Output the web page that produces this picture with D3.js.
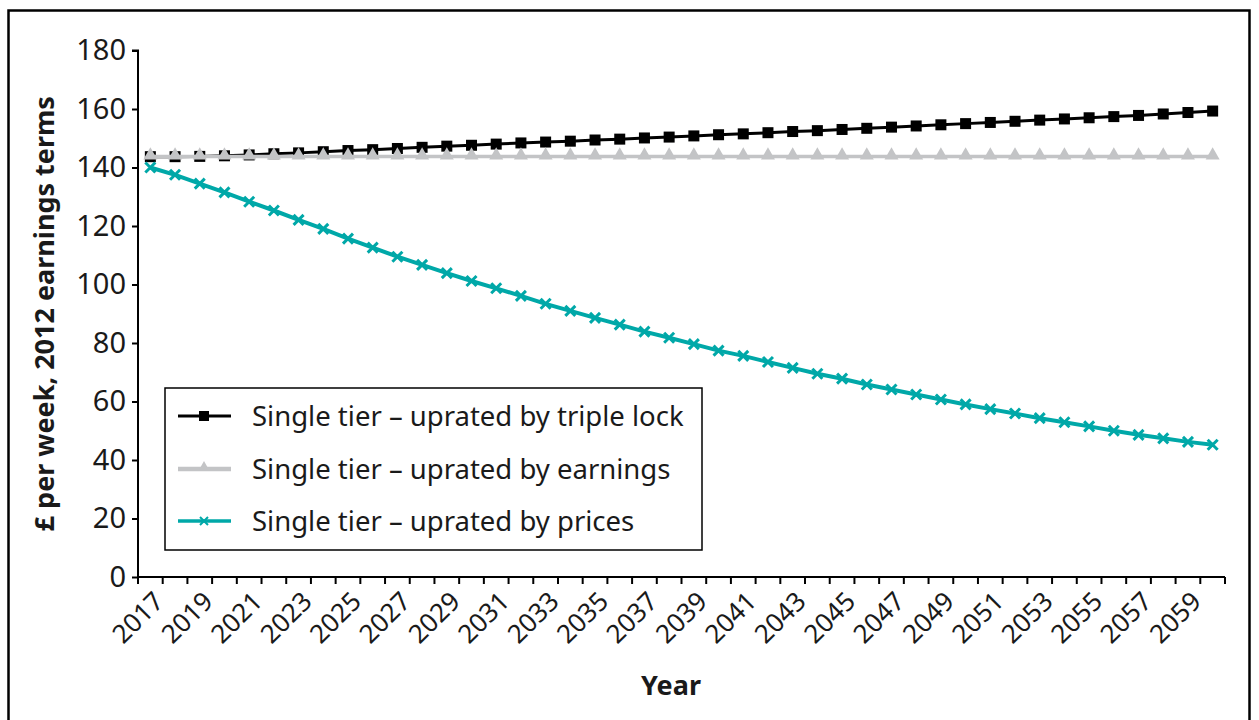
<!DOCTYPE html>
<html>
<head>
<meta charset="utf-8">
<script src="https://cdn.jsdelivr.net/npm/d3@7"></script>
<style>
  html, body { margin: 0; padding: 0; background: #fff; }
  svg { display: block; font-family: "Noto Sans", sans-serif; }
</style>
</head>
<body>
<svg id="chart" width="1259" height="720"></svg>
<script>
const years = d3.range(2017, 2061);
const tickLabels = ["2017","2019","2021","2023","2025","2027","2029","2031","2033","2035","2037","2039","2041","2043","2045","2047","2049","2051","2053","2055","2057","2059"];
const yTicks = [0, 20, 40, 60, 80, 100, 120, 140, 160, 180];

const tripleLock = [143.7,143.7,143.8,144.0,144.3,144.7,145.0,145.4,145.8,146.1,
  146.5,146.9,147.3,147.6,148.0,148.4,148.7,149.0,149.4,149.7,
  150.1,150.4,150.8,151.2,151.5,151.9,152.3,152.6,153.0,153.4,
  153.8,154.2,154.6,155.0,155.4,155.8,156.2,156.6,157.0,157.4,
  157.8,158.3,158.8,159.3];
const earnings = [143.8,143.8,143.8,143.8,143.8,143.8,143.8,143.8,143.8,143.8,
  143.8,143.8,143.8,143.8,143.8,143.8,143.8,143.8,143.8,143.8,
  143.8,143.8,143.8,143.8,143.8,143.8,143.8,143.8,143.8,143.8,
  143.8,143.8,143.8,143.8,143.8,143.8,143.8,143.8,143.8,143.8,
  143.8,143.8,143.8,143.8];
const prices = [140.0,137.5,134.5,131.5,128.3,125.3,122.1,119.0,115.7,112.6,
  109.5,106.7,103.9,101.2,98.7,96.1,93.4,91.0,88.6,86.3,
  83.9,81.8,79.6,77.4,75.6,73.5,71.5,69.5,67.8,65.8,
  64.1,62.4,60.7,59.0,57.4,55.9,54.3,52.9,51.5,50.0,
  48.6,47.4,46.2,45.2];

const seriesNames = ["Single tier – uprated by triple lock", "Single tier – uprated by earnings", "Single tier – uprated by prices"];
const yTitle = "£ per week, 2012 earnings terms";
const xTitle = "Year";

const svg = d3.select("#chart");

// outer frame
svg.append("rect").attr("x", 8.5).attr("y", 10.5).attr("width", 1241).attr("height", 730)
  .attr("fill", "none").attr("stroke", "#000").attr("stroke-width", 2.5);

const pLeft = 138, pRight = 1225, pTop = 50.5, pBottom = 577;
const x = d3.scaleBand().domain(years).range([pLeft, pRight]).padding(0);
const y = d3.scaleLinear().domain([0, 180]).range([pBottom, pTop]);
const cx = d => x(d) + x.bandwidth() / 2;

// Y axis
const yAxis = svg.append("g").attr("transform", `translate(${pLeft},0)`)
  .call(d3.axisLeft(y).tickValues(yTicks).tickSize(6).tickPadding(6).tickFormat(d3.format("d")));
yAxis.select(".domain").attr("stroke", "#000").attr("stroke-width", 2).attr("d", `M-6,${y(180)}H0V${pBottom}`);
yAxis.selectAll(".tick line").attr("stroke", "#000").attr("stroke-width", 2);
yAxis.selectAll(".tick text").attr("font-size", 29).attr("fill", "#1a1a1a").attr("font-family", "Noto Sans, sans-serif");

// X axis
const xg = svg.append("g");
xg.append("line").attr("x1", pLeft).attr("x2", pRight).attr("y1", pBottom).attr("y2", pBottom)
  .attr("stroke", "#000").attr("stroke-width", 2);
const boundaries = years.map(d => x(d)).concat([pRight]);
xg.selectAll("line.tk").data(boundaries).join("line").attr("class", "tk")
  .attr("x1", d => d).attr("x2", d => d).attr("y1", pBottom).attr("y2", pBottom + 7)
  .attr("stroke", "#000").attr("stroke-width", 2);
xg.selectAll("text.xl").data(tickLabels).join("text").attr("class", "xl")
  .attr("transform", d => `translate(${cx(+d) + 2},${pBottom + 13}) rotate(-45)`)
  .attr("text-anchor", "end").attr("dy", "0.7em")
  .attr("font-size", 26).attr("fill", "#1a1a1a").text(d => d);

// Axis titles
svg.append("text").attr("transform", `translate(54,${(pTop + pBottom) / 2}) rotate(-90)`)
  .attr("text-anchor", "middle").attr("font-size", 27).attr("font-weight", "bold").attr("fill", "#1a1a1a")
  .text(yTitle);
svg.append("text").attr("x", 671).attr("y", 695).attr("text-anchor", "middle")
  .attr("font-size", 27).attr("font-weight", "bold").attr("fill", "#1a1a1a").text(xTitle);

const line = d3.line().x((d, i) => cx(years[i])).y(d => y(d));

const colTL = "#000000", colE = "#c3c4c6", colP = "#00a8a8";

// triple lock
svg.append("path").datum(tripleLock).attr("d", line).attr("fill", "none").attr("stroke", colTL).attr("stroke-width", 3);
svg.selectAll("rect.sq").data(tripleLock).join("rect").attr("class", "sq")
  .attr("x", (d, i) => cx(years[i]) - 5.5).attr("y", d => y(d) - 5.5).attr("width", 11).attr("height", 11).attr("fill", colTL);

// earnings
const tri = d3.symbol().type(d3.symbolTriangle).size(85);
svg.append("path").datum(earnings).attr("d", line).attr("fill", "none").attr("stroke", colE).attr("stroke-width", 3.5);
svg.selectAll("path.tri").data(earnings).join("path").attr("class", "tri")
  .attr("transform", (d, i) => `translate(${cx(years[i])},${y(d) - 1})`).attr("d", tri).attr("fill", colE);

// prices
svg.append("path").datum(prices).attr("d", line).attr("fill", "none").attr("stroke", colP).attr("stroke-width", 4);
svg.selectAll("path.cr").data(prices).join("path").attr("class", "cr")
  .attr("d", (d, i) => { const px = cx(years[i]), py = y(d), r = 5; return `M${px-r},${py-r}L${px+r},${py+r}M${px-r},${py+r}L${px+r},${py-r}`; })
  .attr("stroke", colP).attr("stroke-width", 3).attr("fill", "none");

// legend
const lg = svg.append("g");
lg.append("rect").attr("x", 165).attr("y", 388).attr("width", 537).attr("height", 162)
  .attr("fill", "#fff").attr("stroke", "#000").attr("stroke-width", 1.5);
const rows = [416, 469, 521];
const cols = [colTL, colE, colP];
const widths = [3, 4.5, 3.5];
rows.forEach((ry, i) => {
  lg.append("line").attr("x1", 178).attr("x2", 231).attr("y1", ry).attr("y2", ry)
    .attr("stroke", cols[i]).attr("stroke-width", widths[i]);
  lg.append("text").attr("x", 252).attr("y", ry).attr("dy", "0.35em").attr("font-size", 27.5)
    .attr("fill", "#1a1a1a").text(seriesNames[i]);
});
lg.append("rect").attr("x", 199).attr("y", 411).attr("width", 10).attr("height", 10).attr("fill", colTL);
lg.append("path").attr("transform", `translate(204,${rows[1] - 2})`).attr("d", d3.symbol().type(d3.symbolTriangle).size(45)).attr("fill", colE);
lg.append("path").attr("d", `M200,${rows[2]-4}L208,${rows[2]+4}M200,${rows[2]+4}L208,${rows[2]-4}`).attr("stroke", colP).attr("stroke-width", 2);
</script>
</body>
</html>
